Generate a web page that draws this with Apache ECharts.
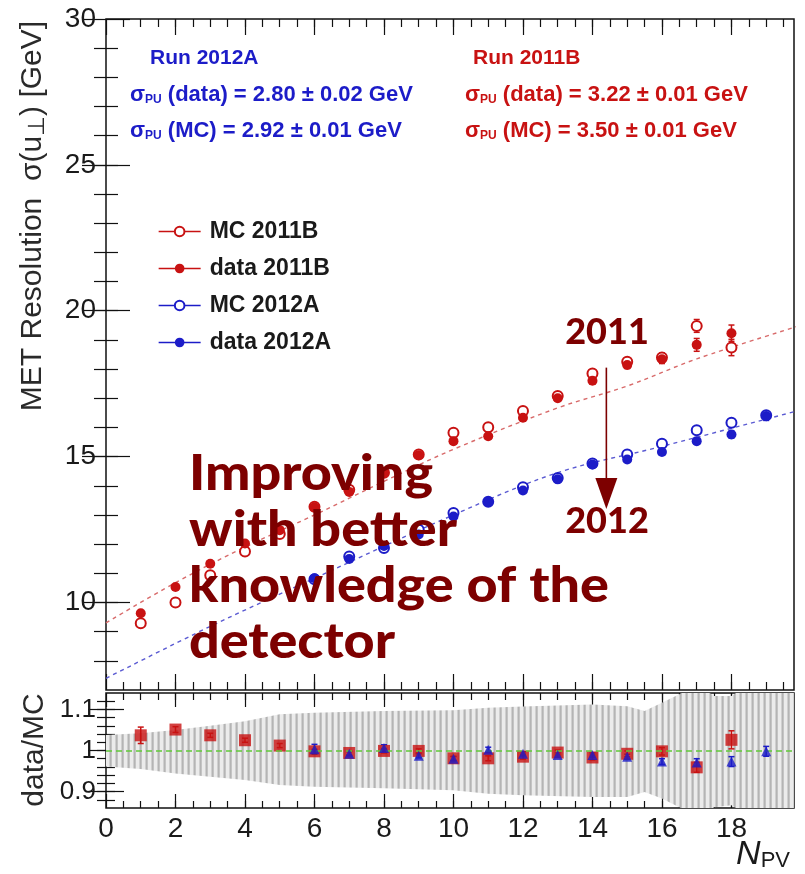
<!DOCTYPE html>
<html>
<head>
<meta charset="utf-8">
<script src="https://cdn.jsdelivr.net/npm/echarts@6/dist/echarts.min.js"></script>
<style>
  html, body { margin: 0; padding: 0; background: #ffffff; }
  #chart { width: 805px; height: 874px; }
</style>
</head>
<body>
<div id="chart"></div>
<script>
// ---- Resolution vs number of primary vertices ----
const npv2011 = [1, 2, 3, 4, 5, 6, 7, 8, 9, 10, 11, 12, 13, 14, 15, 16, 17, 18];
const mc2011B   = [9.29, 10.00, 10.93, 11.75, 12.35, 13.28, 13.86, 14.45, 15.07, 15.82, 16.01, 16.56, 17.08, 17.85, 18.25, 18.40, 19.48, 18.74];
const data2011B = [9.63, 10.53, 11.33, 12.02, 12.48, 13.26, 13.79, 14.44, 15.05, 15.53, 15.70, 16.33, 17.00, 17.60, 18.14, 18.34, 18.83, 19.23];
const err2011B  = [0.08, 0.06, 0.05, 0.05, 0.05, 0.05, 0.05, 0.05, 0.05, 0.06, 0.06, 0.07, 0.08, 0.10, 0.12, 0.15, 0.22, 0.28];

const npv2012 = [6, 7, 8, 9, 10, 11, 12, 13, 14, 15, 16, 17, 18, 19];
const mc2012A   = [10.80, 11.58, 11.87, 12.49, 13.07, 13.45, 13.95, 14.27, 14.76, 15.07, 15.44, 15.90, 16.16, 16.42];
const data2012A = [10.83, 11.49, 11.94, 12.33, 12.95, 13.45, 13.84, 14.22, 14.73, 14.90, 15.16, 15.53, 15.76, 16.39];
const err2012A  = [0.05, 0.04, 0.04, 0.04, 0.04, 0.04, 0.04, 0.04, 0.05, 0.05, 0.06, 0.08, 0.12, 0.15];

// Pile-up fits, sampled along the curves
const fit2011N = [0, 2, 4, 6, 8, 10, 13, 15, 17, 20];
const fit2011  = [9.30, 10.68, 11.90, 13.00, 14.15, 15.25, 16.67, 17.42, 18.35, 19.50];
const fit2012N = [0, 3, 6, 10, 13, 16, 20];
const fit2012  = [7.40, 9.18, 10.83, 13.00, 14.45, 15.35, 16.60];

// ---- data / MC ratios ----
const ratio2011B    = [1.037, 1.051, 1.037, 1.025, 1.012, 0.998, 0.994, 0.999, 0.999, 0.981, 0.981, 0.985, 0.995, 0.983, 0.992, 0.998, 0.959, 1.026];
const ratio2011BErr = [0.020, 0.007, 0.005, 0.005, 0.005, 0.005, 0.005, 0.005, 0.005, 0.005, 0.006, 0.006, 0.006, 0.006, 0.007, 0.009, 0.012, 0.022];
const ratio2012A    = [1.003, 0.992, 1.006, 0.987, 0.980, 1.002, 0.992, 0.989, 0.989, 0.985, 0.973, 0.971, 0.973, 0.998];
const ratio2012AErr = [0.012, 0.005, 0.008, 0.005, 0.005, 0.006, 0.005, 0.005, 0.005, 0.006, 0.007, 0.009, 0.012, 0.012];

// Systematic uncertainty band on the ratio
const bandN  = [0, 1, 2, 3, 4, 5, 6, 8, 10, 11, 12, 14, 15, 15.5, 16, 16.5, 17, 17.5, 18, 18.5, 19.8];
const bandHi = [1.038, 1.042, 1.050, 1.060, 1.071, 1.088, 1.092, 1.096, 1.098, 1.104, 1.107, 1.112, 1.108, 1.096, 1.116, 1.137, 1.160, 1.133, 1.133, 1.160, 1.160];
const bandLo = [0.961, 0.955, 0.944, 0.936, 0.928, 0.916, 0.912, 0.908, 0.903, 0.895, 0.891, 0.887, 0.887, 0.899, 0.883, 0.862, 0.840, 0.862, 0.867, 0.840, 0.840];

// ---- tick labels ----
const xTickLabels   = [0, 2, 4, 6, 8, 10, 12, 14, 16, 18];
const yTickLabels   = [10, 15, 20, 25, 30];
const ratioTickLabels = [0.9, 1, 1.1];

const X_MAX = 19.8;
const RED = '#c81212';
const BLUE = '#1c1cc8';
const DARKRED = '#7d0000';
const FONT = "'Liberation Sans', Arial, Helvetica, sans-serif";

// minor tick positions
const xMinor = [];
for (let k = 1; k < 40; k++) xMinor.push(k * 0.5);
const yMinor = [];
for (let v = 8; v < 30; v++) yMinor.push(v);
const rMinor = [];
for (let k = 44; k <= 56; k++) rMinor.push(+(k * 0.02).toFixed(2));

function xAxisDef(grid, pos, ticks, len, labels) {
  return {
    type: 'value', gridIndex: grid, position: pos, min: 0, max: X_MAX,
    axisLine: { show: false }, splitLine: { show: false },
    axisTick: { show: true, inside: true, length: len, customValues: ticks, lineStyle: { color: '#111', width: 1.2 } },
    axisLabel: labels ? { show: true, customValues: xTickLabels, fontSize: 28, fontFamily: FONT, color: '#1a1a1a', margin: 7 } : { show: false }
  };
}
function yAxisDef(grid, pos, min, max, ticks, len, labelVals, fs) {
  return {
    type: 'value', gridIndex: grid, position: pos, min: min, max: max,
    axisLine: { show: false }, splitLine: { show: false },
    axisTick: { show: true, inside: true, length: len, customValues: ticks, lineStyle: { color: '#111', width: 1.2 } },
    axisLabel: labelVals ? { show: true, customValues: labelVals, fontSize: fs, fontFamily: FONT, color: '#1a1a1a', margin: 10 } : { show: false }
  };
}

function pairs(xs, ys) { return xs.map((x, i) => [x, ys[i]]); }

function errorBars(xs, ys, errs, color, xi, yi, z) {
  return {
    type: 'custom', xAxisIndex: xi, yAxisIndex: yi, silent: true, clip: true, z: z,
    encode: { x: 0, y: [1, 2] },
    data: xs.map((x, i) => [x, ys[i] - errs[i], ys[i] + errs[i]]),
    renderItem: function (params, api) {
      const lo = api.coord([api.value(0), api.value(1)]);
      const hi = api.coord([api.value(0), api.value(2)]);
      const st = { stroke: color, lineWidth: 1.5 };
      return {
        type: 'group', children: [
          { type: 'line', shape: { x1: lo[0], y1: lo[1], x2: hi[0], y2: hi[1] }, style: st },
          { type: 'line', shape: { x1: lo[0] - 3, y1: lo[1], x2: lo[0] + 3, y2: lo[1] }, style: st },
          { type: 'line', shape: { x1: hi[0] - 3, y1: hi[1], x2: hi[0] + 3, y2: hi[1] }, style: st }
        ]
      };
    }
  };
}

// vertical hatching used for the uncertainty band
const hatch = document.createElement('canvas');
hatch.width = 6; hatch.height = 6;
(function () {
  const g = hatch.getContext('2d');
  g.fillStyle = 'rgba(235,235,235,1)';
  g.fillRect(0, 0, 6, 6);
  g.fillStyle = 'rgba(170,170,170,0.85)';
  g.fillRect(1.5, 0, 2.2, 6);
})();

const chart = echarts.init(document.getElementById('chart'), null, { renderer: 'canvas' });

const option = {
  animation: false,
  backgroundColor: '#ffffff',
  grid: [
    { left: 106, top: 19, width: 688, height: 671, show: true, borderColor: '#111', borderWidth: 1.5, backgroundColor: 'transparent' },
    { left: 106, top: 693, width: 688, height: 115, show: true, borderColor: '#111', borderWidth: 1.5, backgroundColor: 'transparent' }
  ],
  xAxis: [
    xAxisDef(0, 'bottom', xTickLabels, 16, false),
    xAxisDef(0, 'bottom', xMinor, 8, false),
    xAxisDef(0, 'top', xTickLabels, 16, false),
    xAxisDef(0, 'top', xMinor, 8, false),
    xAxisDef(1, 'bottom', xTickLabels, 14, true),
    xAxisDef(1, 'bottom', xMinor, 7, false),
    xAxisDef(1, 'top', xTickLabels, 14, false),
    xAxisDef(1, 'top', xMinor, 7, false)
  ],
  yAxis: [
    yAxisDef(0, 'left', 7, 30, yTickLabels, 24, yTickLabels, 28),
    yAxisDef(0, 'left', 7, 30, yMinor, 12, null),
    yAxisDef(0, 'right', 7, 30, yTickLabels, 24, null),
    yAxisDef(0, 'right', 7, 30, yMinor, 12, null),
    yAxisDef(1, 'left', 0.86, 1.14, ratioTickLabels, 18, ratioTickLabels, 26),
    yAxisDef(1, 'left', 0.86, 1.14, rMinor, 9, null),
    yAxisDef(1, 'right', 0.86, 1.14, ratioTickLabels, 18, null),
    yAxisDef(1, 'right', 0.86, 1.14, rMinor, 9, null)
  ],
  legend: {
    orient: 'vertical', left: 158, top: 220, padding: 0,
    itemWidth: 42, itemHeight: 12, itemGap: 14,
    data: ['MC 2011B', 'data 2011B', 'MC 2012A', 'data 2012A'],
    lineStyle: { opacity: 1, width: 1.3 },
    textStyle: { fontFamily: FONT, fontSize: 23, fontWeight: 'bold', color: '#1a1a1a', padding: [0, 0, 0, 4] }
  },
  series: [
    {
      name: 'fit 2011B', type: 'line', xAxisIndex: 0, yAxisIndex: 0, smooth: 0.35, symbol: 'none', silent: true, z: 2,
      data: pairs(fit2011N, fit2011), lineStyle: { color: '#d86a6a', width: 1.4, type: [4, 4] }
    },
    {
      name: 'fit 2012A', type: 'line', xAxisIndex: 0, yAxisIndex: 0, smooth: 0.35, symbol: 'none', silent: true, z: 2,
      data: pairs(fit2012N, fit2012), lineStyle: { color: '#5a5ad2', width: 1.4, type: [4, 4] }
    },
    errorBars(npv2011, mc2011B, err2011B, RED, 0, 0, 3),
    errorBars(npv2011, data2011B, err2011B, RED, 0, 0, 3),
    errorBars(npv2012, data2012A, err2012A, BLUE, 0, 0, 3),
    {
      name: 'MC 2011B', type: 'line', xAxisIndex: 0, yAxisIndex: 0, z: 4,
      symbol: 'emptyCircle', symbolSize: 10, showAllSymbol: true,
      itemStyle: { color: RED, borderWidth: 1.8 }, lineStyle: { color: RED, opacity: 0, width: 1.3 },
      data: pairs(npv2011, mc2011B)
    },
    {
      name: 'data 2011B', type: 'line', xAxisIndex: 0, yAxisIndex: 0, z: 5,
      symbol: 'circle', symbolSize: 10, showAllSymbol: true,
      itemStyle: { color: RED }, lineStyle: { color: RED, opacity: 0, width: 2 },
      data: pairs(npv2011, data2011B)
    },
    {
      name: 'MC 2012A', type: 'line', xAxisIndex: 0, yAxisIndex: 0, z: 4,
      symbol: 'emptyCircle', symbolSize: 10, showAllSymbol: true,
      itemStyle: { color: BLUE, borderWidth: 1.8 }, lineStyle: { color: BLUE, opacity: 0, width: 1.3 },
      data: pairs(npv2012, mc2012A)
    },
    {
      name: 'data 2012A', type: 'line', xAxisIndex: 0, yAxisIndex: 0, z: 5,
      symbol: 'circle', symbolSize: 10, showAllSymbol: true,
      itemStyle: { color: BLUE }, lineStyle: { color: BLUE, opacity: 0, width: 1.3 },
      data: pairs(npv2012, data2012A)
    },
    // ratio panel
    {
      name: 'band', type: 'custom', xAxisIndex: 4, yAxisIndex: 4, clip: true, silent: true, z: 1,
      encode: { x: 0, y: 1 }, data: [[0, 1]],
      renderItem: function (params, api) {
        const pts = [];
        for (let i = 0; i < bandN.length; i++) pts.push(api.coord([bandN[i], bandHi[i]]));
        for (let i = bandN.length - 1; i >= 0; i--) pts.push(api.coord([bandN[i], bandLo[i]]));
        return { type: 'polygon', shape: { points: pts }, style: { fill: { image: hatch, repeat: 'repeat' }, stroke: null } };
      }
    },
    errorBars(npv2011, ratio2011B, ratio2011BErr, RED, 4, 4, 3),
    errorBars(npv2012, ratio2012A, ratio2012AErr, BLUE, 4, 4, 3),
    {
      name: 'ratio 2011B', type: 'scatter', xAxisIndex: 4, yAxisIndex: 4, z: 4,
      symbol: 'rect', symbolSize: 12, itemStyle: { color: RED },
      data: pairs(npv2011, ratio2011B),
      markLine: {
        silent: true, symbol: 'none', label: { show: false },
        lineStyle: { color: '#62c93a', width: 1.5, type: [6, 4] },
        data: [{ yAxis: 1 }]
      }
    },
    {
      name: 'ratio 2012A', type: 'scatter', xAxisIndex: 4, yAxisIndex: 4, z: 5,
      symbol: 'triangle', symbolSize: 10, itemStyle: { color: BLUE },
      data: pairs(npv2012, ratio2012A)
    }
  ]
};

chart.setOption(option);

// ---- annotations ----
const arrowTop = chart.convertToPixel({ gridIndex: 0 }, [14.4, 18.05]);
const arrowTip = chart.convertToPixel({ gridIndex: 0 }, [14.4, 13.2]);
const headLen = 31, headHalf = 11;

const sigmaRich = {
  s: { fontSize: 22, fontWeight: 'bold', fontFamily: FONT },
  sub: { fontSize: 12, fontWeight: 'bold', fontFamily: FONT, verticalAlign: 'bottom', padding: [8, 0, 0, 0] },
  t: { fontSize: 21, fontWeight: 'bold', fontFamily: FONT }
};
function statText(x, y, txt, color) {
  const rich = {};
  Object.keys(sigmaRich).forEach(k => { rich[k] = Object.assign({}, sigmaRich[k], { fill: color }); });
  return { type: 'text', x: x, y: y, style: { text: txt, rich: rich, fill: color, verticalAlign: 'middle', align: 'left' } };
}

const BIG_FONT = "Lato, 'Open Sans', sans-serif";

chart.setOption({
  graphic: [
    {
      type: 'text', x: 33, y: 216, rotation: Math.PI / 2,
      style: {
        text: 'MET Resolution  σ(u{sub|⊥}) [GeV]', fill: '#2a2a2a', fontFamily: FONT, fontSize: 30,
        align: 'center', verticalAlign: 'middle',
        rich: { sub: { fontSize: 23, fontFamily: FONT, fill: '#2a2a2a', verticalAlign: 'bottom', padding: [10, 0, 0, 0] } }
      }
    },
    {
      type: 'text', x: 35, y: 750, rotation: Math.PI / 2,
      style: { text: 'data/MC', fill: '#2a2a2a', fontFamily: FONT, fontSize: 30, align: 'center', verticalAlign: 'middle' }
    },
    {
      type: 'text', x: 790, y: 855,
      style: {
        text: '{n|N}{s|PV}', align: 'right', verticalAlign: 'middle',
        rich: {
          n: { fontSize: 34, fontStyle: 'italic', fontFamily: FONT, fill: '#1a1a1a' },
          s: { fontSize: 22, fontFamily: FONT, fill: '#1a1a1a', verticalAlign: 'bottom', padding: [12, 0, 0, 0] }
        }
      }
    },
    statText(150, 58, '{t|Run 2012A}', BLUE),
    statText(130, 95, '{s|σ}{sub|PU}{s| (data) = 2.80 ± 0.02 GeV}', BLUE),
    statText(130, 131, '{s|σ}{sub|PU}{s| (MC) = 2.92 ± 0.01 GeV}', BLUE),
    statText(473, 58, '{t|Run 2011B}', RED),
    statText(465, 95, '{s|σ}{sub|PU}{s| (data) = 3.22 ± 0.01 GeV}', RED),
    statText(465, 131, '{s|σ}{sub|PU}{s| (MC) = 3.50 ± 0.01 GeV}', RED),
    {
      type: 'text', x: 189, y: 446, z: 100, scaleX: 1.1,
      style: {
        text: 'Improving\nwith better\nknowledge of the\ndetector',
        fill: DARKRED, fontFamily: BIG_FONT, fontWeight: 900, fontSize: 49,
        lineHeight: 56, align: 'left', verticalAlign: 'top'
      }
    },
    {
      type: 'text', x: 607, y: 332, z: 100,
      style: { text: '2011', fill: DARKRED, fontFamily: BIG_FONT, fontWeight: 900, fontSize: 36, align: 'center', verticalAlign: 'middle' }
    },
    {
      type: 'text', x: 607, y: 521, z: 100,
      style: { text: '2012', fill: DARKRED, fontFamily: BIG_FONT, fontWeight: 900, fontSize: 36, align: 'center', verticalAlign: 'middle' }
    },
    {
      type: 'line', z: 100,
      shape: { x1: arrowTop[0], y1: arrowTop[1], x2: arrowTip[0], y2: arrowTip[1] - headLen + 2 },
      style: { stroke: DARKRED, lineWidth: 1.6 }
    },
    {
      type: 'polygon', z: 100,
      shape: { points: [[arrowTip[0] - headHalf, arrowTip[1] - headLen], [arrowTip[0] + headHalf, arrowTip[1] - headLen], [arrowTip[0], arrowTip[1]]] },
      style: { fill: DARKRED }
    }
  ]
});
</script>
</body>
</html>
